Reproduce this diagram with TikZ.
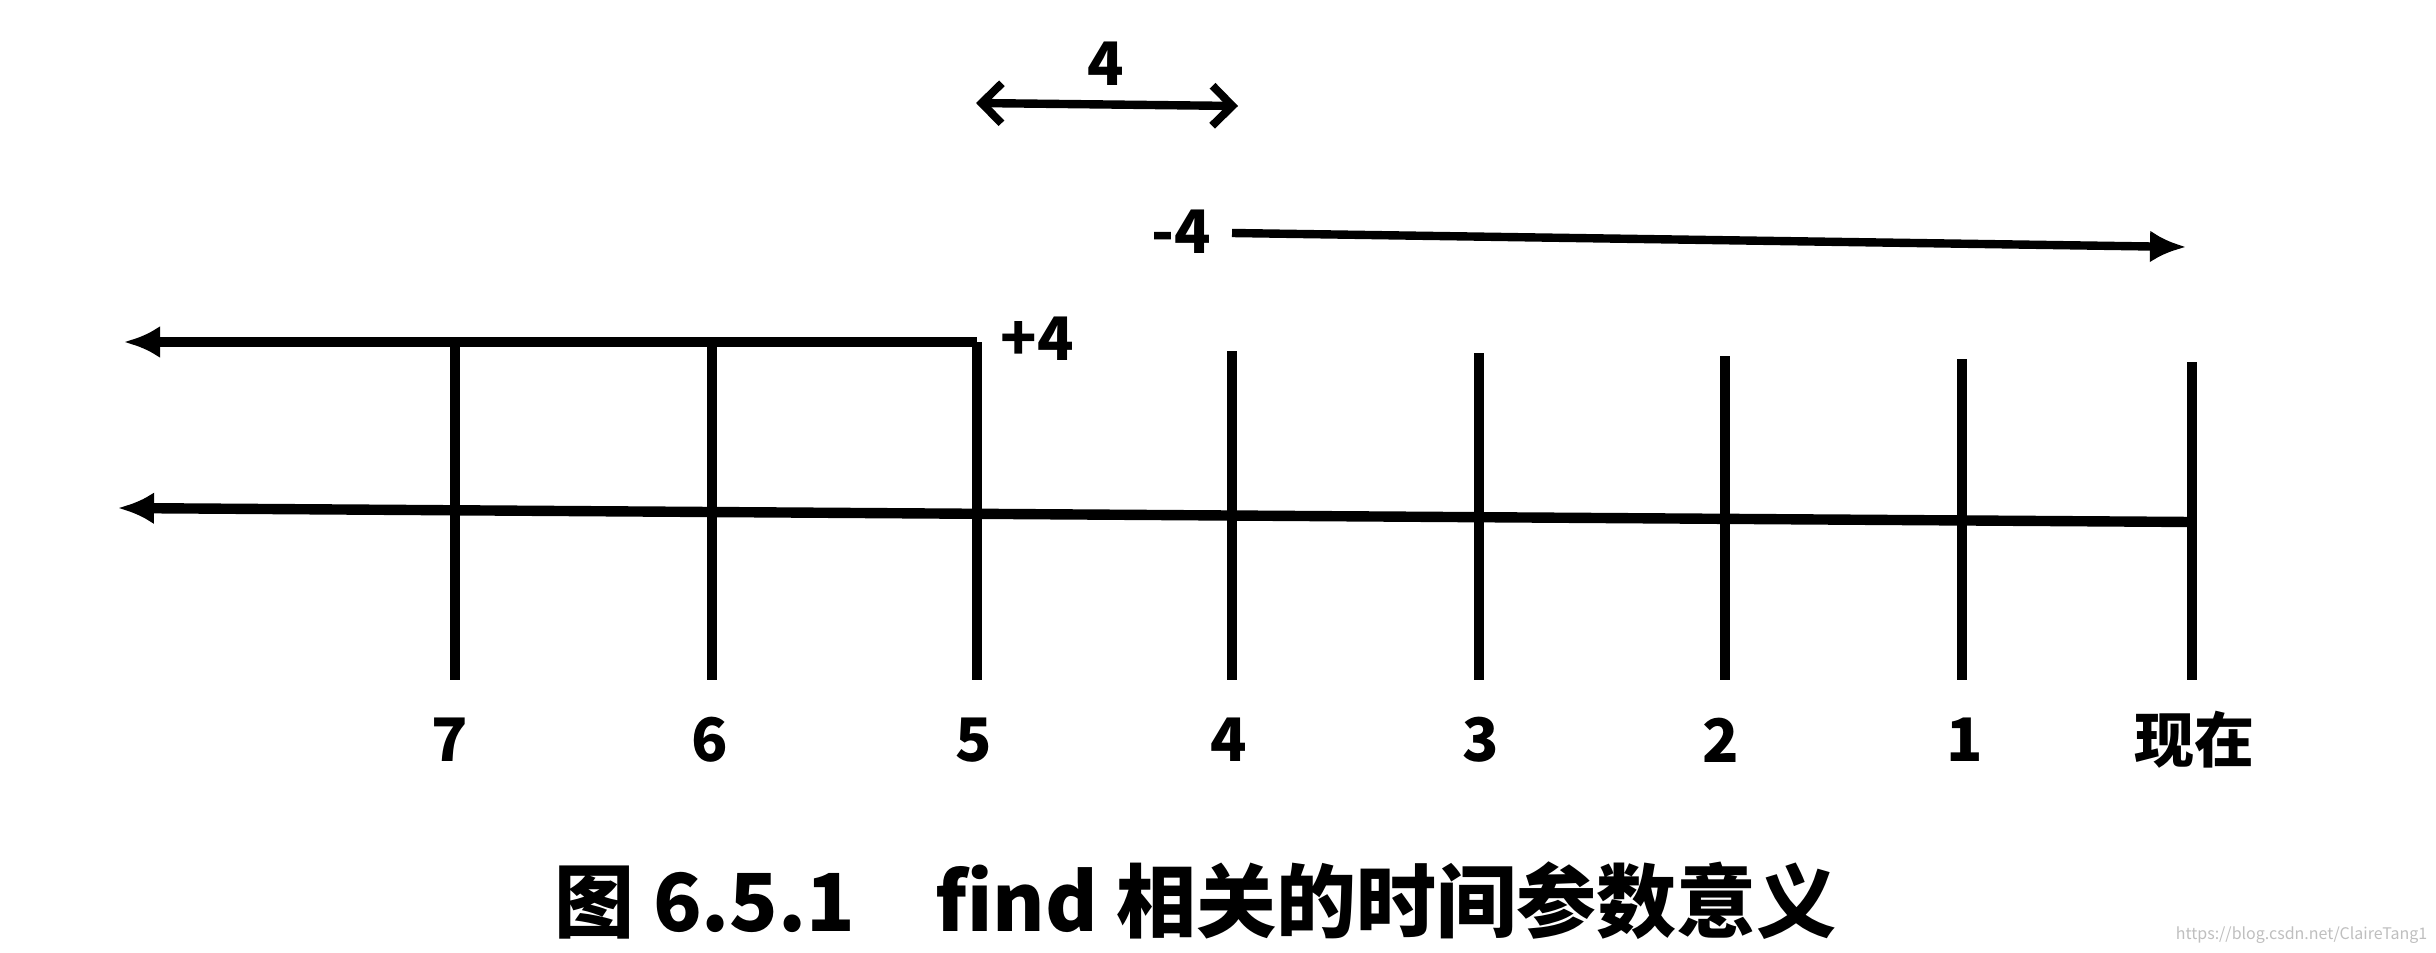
\documentclass[tikz,border=0pt]{standalone}
\usepackage{fontspec}
\setmainfont{Noto Sans CJK SC}
\usetikzlibrary{arrows.meta}
\begin{document}
\begin{tikzpicture}[x=0.25pt,y=-0.25pt,
  axis/.style={line width=2.6pt, black},
  thinaxis/.style={line width=2.1pt, black},
  tickline/.style={line width=2.3pt, black},
  lab/.style={font=\fontsize{15}{15}\selectfont\bfseries, inner sep=0pt},
  larrow/.style={-{Latex[length=9pt,width=8pt]}},
  barbs/.style={{Straight Barb[length=5pt,width=10pt,line width=2pt]}-{Straight Barb[length=5pt,width=10pt,line width=2pt]}},
  captstyle/.style={font=\fontsize{20}{20}\selectfont\bfseries, inner sep=0pt},
  wmstyle/.style={font=\fontsize{4}{4}\selectfont, text=black!25, inner sep=0pt}
]
\useasboundingbox[fill=white] (0,0) rectangle (2436,952);

% tick coordinates
\foreach \n/\x/\yt in {7/455/342, 6/712/342, 5/977/342, 4/1232/351, 3/1479/353, 2/1725/356, 1/1962/359, 0/2192/362} {
  \coordinate (top\n) at (\x,\yt);
  \coordinate (bot\n) at (\x,680);
}
\foreach \n in {7,6,5,4,3,2,1,0} { \draw[tickline] (top\n) -- (bot\n); }

% axes
\coordinate (upL) at (124,342);
\coordinate (lowL) at (118,508);
\coordinate (nowmid) at (2192,522);
\draw[axis, larrow] (top5) -- (upL);
\draw[axis, larrow] (nowmid) -- (lowL);

% labels
\node[lab] (l7) at (450,740) {7};
\node[lab] (l6) at (710,740) {6};
\node[lab] (l5) at (974,740) {5};
\node[lab] (l4) at (1229,740) {4};
\node[lab] (l3) at (1481,740) {3};
\node[lab] (l2) at (1721,740) {2};
\node[lab] (l1) at (1965,740) {1};
\node[lab] (lnow) at (2194,740) {现在};

% +4
\node[lab, anchor=west] (plus) at (1000,339) {+4};

% -4 arrow
\node[lab] (minus) at (1181,232) {-4};
\coordinate (mStart) at (1232,233);
\coordinate (mEnd) at (2186,247);
\draw[thinaxis, larrow] (mStart) -- (mEnd);

% 4 double arrow
\node[lab] (four) at (1106,64) {4};
\coordinate (dL) at (976,103);
\coordinate (dR) at (1238,106);
\draw[thinaxis, barbs] (dL) -- (dR);

% caption
\node[captstyle, anchor=west] (caption) at (554,901) {图 6.5.1\hspace{1em}find 相关的时间参数意义};

% watermark
\node[wmstyle, anchor=east] (wm) at (2428,935) {https://blog.csdn.net/ClaireTang1};
\end{tikzpicture}
\end{document}
